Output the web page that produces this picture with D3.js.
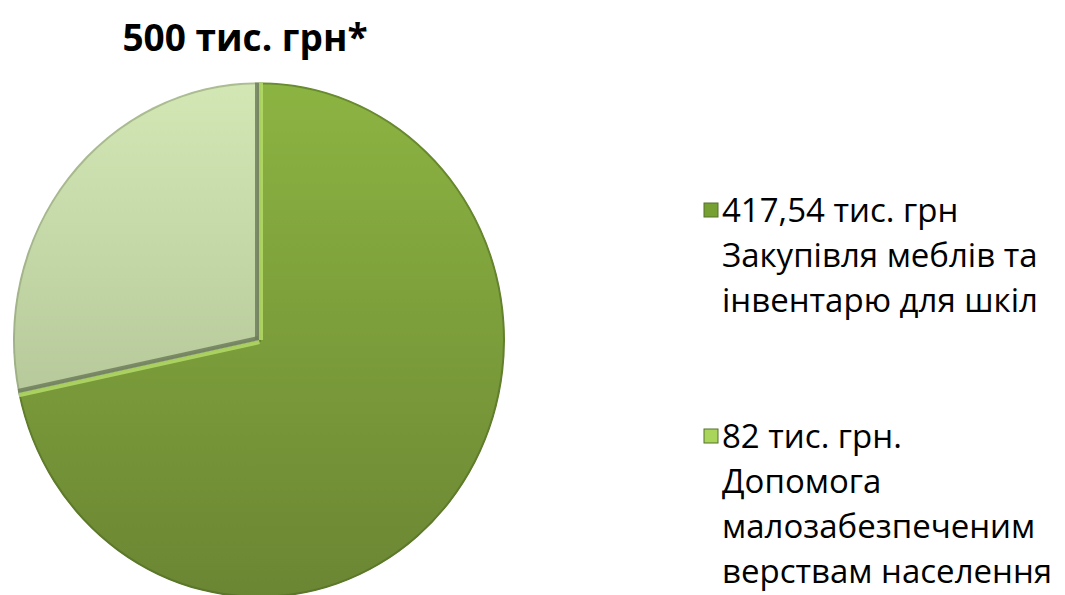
<!DOCTYPE html>
<html>
<head>
<meta charset="utf-8">
<script src="https://cdn.jsdelivr.net/npm/d3@7"></script>
<style>
  html, body { margin: 0; padding: 0; background: #fff; }
  svg { display: block; }
</style>
</head>
<body>
<svg id="chart" width="1065" height="595"></svg>
<script>
// shares as drawn in the picture (percent of the circle)
const shares = [71.7, 28.3];
const legendLines = [
  ["417,54 тис. грн", "Закупівля меблів та", "інвентарю для шкіл"],
  ["82 тис. грн.", "Допомога", "малозабезпеченим", "верствам населення"]
];
const title = "500 тис. грн*";

const fills = [
  { top: "#8cb442", bottom: "#6b8633", edge: "#b4dc68", rim: "#4f6a22", marker: "#76a032" },
  { top: "#d3e7b5", bottom: "#a5b689", edge: "#6f7e5c", rim: "#8a9a74", marker: "#a9d65a" }
];

const svg = d3.select("#chart");
const cx = 259, cy = 340, r = 246, yStretch = 1.048;
const font = "'Open Sans', 'Noto Sans', sans-serif";

const defs = svg.append("defs");
fills.forEach((f, i) => {
  const g = defs.append("linearGradient")
    .attr("id", "grad" + i)
    .attr("gradientUnits", "userSpaceOnUse")
    .attr("x1", 0).attr("y1", -r).attr("x2", 0).attr("y2", r);
  g.append("stop").attr("offset", "0%").attr("stop-color", f.top);
  g.append("stop").attr("offset", "100%").attr("stop-color", f.bottom);
});

svg.append("text")
  .attr("x", 245).attr("y", 51)
  .attr("text-anchor", "middle")
  .attr("font-family", font)
  .attr("font-weight", "bold")
  .attr("font-size", 37)
  .attr("fill", "#000")
  .text(title);

const pie = d3.pie().sort(null).value(d => d);
const arc = d3.arc().innerRadius(0).outerRadius(r);
const arcs = pie(shares);

const g = svg.append("g")
  .attr("transform", `translate(${cx},${cy}) scale(1,${yStretch})`);

arcs.forEach((a, i) => {
  defs.append("clipPath").attr("id", "clip" + i)
    .append("path").attr("d", arc(a));
});

const slice = g.selectAll("g.slice")
  .data(arcs)
  .join("g")
  .attr("class", "slice")
  .attr("clip-path", (d, i) => `url(#clip${i})`);

slice.append("path")
  .attr("d", arc)
  .attr("fill", (d, i) => `url(#grad${i})`);

// soft rim on the outer edge
slice.append("path")
  .attr("d", arc)
  .attr("fill", "none")
  .attr("stroke", (d, i) => fills[i].rim)
  .attr("stroke-opacity", 0.55)
  .attr("stroke-width", 4);

// bevel along the radial edges
slice.each(function(d, i) {
  const s = d3.select(this);
  [d.startAngle, d.endAngle].forEach(ang => {
    const p = d3.pointRadial(ang, r);
    s.append("line")
      .attr("x1", 0).attr("y1", 0)
      .attr("x2", p[0]).attr("y2", p[1])
      .attr("stroke", fills[i].edge)
      .attr("stroke-opacity", 0.85)
      .attr("stroke-width", 8);
  });
});

// legend
const lineH = 45;
const legendTops = [222, 448];
legendLines.forEach((lines, i) => {
  const lg = svg.append("g").attr("transform", `translate(704,${legendTops[i]})`);
  lg.append("rect")
    .attr("x", 0).attr("y", -19)
    .attr("width", 14).attr("height", 14)
    .attr("fill", fills[i].marker)
    .attr("stroke", "#55702a")
    .attr("stroke-width", 1);
  lg.append("text")
    .attr("font-family", font)
    .attr("font-size", 33)
    .attr("fill", "#000")
    .selectAll("tspan")
    .data(lines)
    .join("tspan")
    .attr("x", 18)
    .attr("y", (d, j) => j * lineH)
    .text(d => d);
});
</script>
</body>
</html>
